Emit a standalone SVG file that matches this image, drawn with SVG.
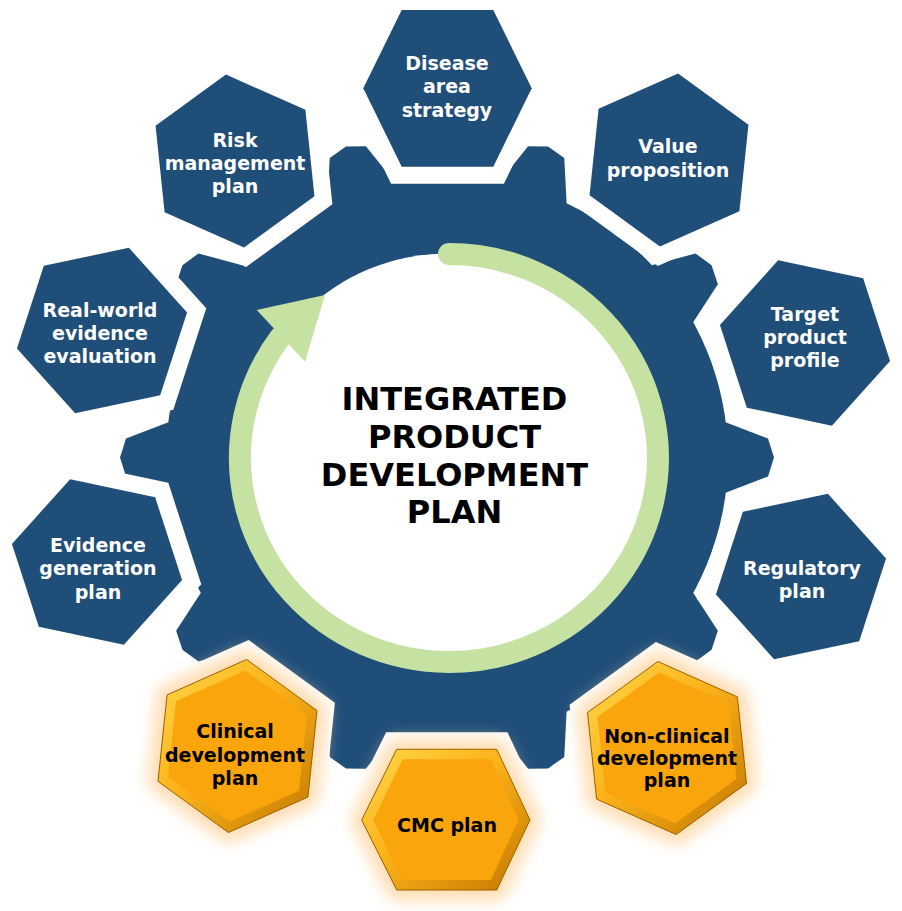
<svg xmlns="http://www.w3.org/2000/svg" width="902" height="911" viewBox="0 0 902 911">
<defs>
<style>
.gear{fill:#1F4E79}
.gap{fill:#fff;stroke:#fff;stroke-width:34;stroke-linejoin:miter}
.hex{fill:#1F4E79}
.lbl{font-family:"DejaVu Sans",Verdana,sans-serif;font-weight:bold;font-size:19px;fill:#fff;text-anchor:middle}
.olbl{font-family:"DejaVu Sans",Verdana,sans-serif;font-weight:bold;font-size:19px;fill:#000;text-anchor:middle}
.ttl{font-family:"DejaVu Sans",Verdana,sans-serif;font-weight:bold;font-size:32px;fill:#000;text-anchor:middle}
.glow{fill:#FFD6A2;stroke:#FFD6A2;stroke-width:20;stroke-linejoin:round;opacity:.85;filter:url(#blur)}
.bev{fill:url(#bev);stroke:#9A6000;stroke-width:1}
.face{fill:#FBA50C}
.ring{fill:none;stroke:#C6E2A2;stroke-width:22;stroke-linecap:round}
.head{fill:#C6E2A2}
</style>
<polygon id="hx" points="87,0 43.5,75.3 -43.5,75.3 -87,0 -43.5,-75.3 43.5,-75.3"/>
<polygon id="tooth" points="-50,-240 -19,-321 0,-327 19,-321 50,-240"/>
<linearGradient id="bev" x1="0" y1="0" x2="1" y2="1">
<stop offset="0" stop-color="#FFD84A"/>
<stop offset="0.45" stop-color="#FBB21A"/>
<stop offset="1" stop-color="#C27600"/>
</linearGradient>
<filter id="blur" x="-40%" y="-40%" width="180%" height="180%"><feGaussianBlur stdDeviation="8"/></filter>
</defs>
<rect width="902" height="911" fill="#fff"/>
<g id="gear">
<circle class="gear" cx="447" cy="457.5" r="281"/>
<use href="#tooth" class="gear" transform="translate(447,457.5) rotate(18)"/>
<use href="#tooth" class="gear" transform="translate(447,457.5) rotate(54)"/>
<use href="#tooth" class="gear" transform="translate(447,457.5) rotate(90)"/>
<use href="#tooth" class="gear" transform="translate(447,457.5) rotate(126)"/>
<use href="#tooth" class="gear" transform="translate(447,457.5) rotate(162)"/>
<use href="#tooth" class="gear" transform="translate(447,457.5) rotate(198)"/>
<use href="#tooth" class="gear" transform="translate(447,457.5) rotate(234)"/>
<use href="#tooth" class="gear" transform="translate(447,457.5) rotate(270)"/>
<use href="#tooth" class="gear" transform="translate(447,457.5) rotate(306)"/>
<use href="#tooth" class="gear" transform="translate(447,457.5) rotate(342)"/>
</g>
<g id="gaps">
<polygon class="gap" points="401.7,10 493.3,10 531.7,88.3 493.3,166.7 401.7,166.7 363.3,88.3"/>
<use href="#hx" class="gap" transform="translate(669,160) rotate(36)"/>
<use href="#hx" class="gap" transform="translate(805,343) rotate(72)"/>
<use href="#hx" class="gap" transform="translate(801,576.5) rotate(108)"/>
<use href="#hx" class="gap" transform="translate(667,748) rotate(144)"/>
<polygon class="gap" points="396.7,749.3 496.7,749.3 530,820 496.7,890 396.7,890 361.7,820"/>
<use href="#hx" class="gap" transform="translate(237.5,746) rotate(216)"/>
<use href="#hx" class="gap" transform="translate(97,562) rotate(252)"/>
<use href="#hx" class="gap" transform="translate(102,330.5) rotate(288)"/>
<use href="#hx" class="gap" transform="translate(235,161) rotate(324)"/>
</g>
<g id="hub">
<circle cx="447" cy="457.5" r="204" fill="#fff"/>
<path class="ring" d="M449 254 A209 204 0 1 1 280.5 337.2"/>
<polygon class="head" points="256.7,310 325,295 305,361.7"/>
<text class="ttl" x="454.5" y="409.5">INTEGRATED</text>
<text class="ttl" x="454.5" y="448">PRODUCT</text>
<text class="ttl" x="454.5" y="485.7">DEVELOPMENT</text>
<text class="ttl" x="454.5" y="523.3">PLAN</text>
</g>
<g id="glows">
<polygon class="glow" points="737.4,696.9 746.5,783.4 676.1,834.5 596.6,799.1 587.5,712.6 657.9,661.5"/>
<polygon class="glow" points="396.7,749.3 496.7,749.3 530,820 496.7,890 396.7,890 361.7,820"/>
<polygon class="glow" points="317,710.6 307.9,797.1 228.4,832.5 158,781.4 167.1,694.9 246.6,659.5"/>
</g>
<g id="disease">
<polygon class="hex" points="401.7,10 493.3,10 531.7,88.3 493.3,166.7 401.7,166.7 363.3,88.3"/>
<text class="lbl" x="447" y="70">Disease</text>
<text class="lbl" x="447" y="93.3">area</text>
<text class="lbl" x="447" y="116.7">strategy</text>
</g>
<g id="value">
<use href="#hx" class="hex" transform="translate(669,160) rotate(36)"/>
<text class="lbl" x="668" y="153">Value</text>
<text class="lbl" x="668" y="176.5">proposition</text>
</g>
<g id="target">
<use href="#hx" class="hex" transform="translate(805,343) rotate(72)"/>
<text class="lbl" x="805" y="321">Target</text>
<text class="lbl" x="805" y="344">product</text>
<text class="lbl" x="805" y="367">profile</text>
</g>
<g id="regulatory">
<use href="#hx" class="hex" transform="translate(801,576.5) rotate(108)"/>
<text class="lbl" x="802" y="575">Regulatory</text>
<text class="lbl" x="802" y="598">plan</text>
</g>
<g id="nonclinical">
<polygon class="bev" points="737.4,696.9 746.5,783.4 676.1,834.5 596.6,799.1 587.5,712.6 657.9,661.5"/>
<polygon class="face" points="728.5,703.3 736.4,778.9 674.9,823.6 605.5,792.7 597.6,717.1 659.1,672.4"/>
<text class="olbl" x="667" y="743.3">Non-clinical</text>
<text class="olbl" x="667" y="765">development</text>
<text class="olbl" x="667" y="786.7">plan</text>
</g>
<g id="cmc">
<polygon class="bev" points="396.7,749.3 496.7,749.3 530,820 496.7,890 396.7,890 361.7,820"/>
<polygon class="face" points="402.5,759.3 490.9,759.3 518.5,820 490.9,880 402.5,880 373.2,820"/>
<text class="olbl" x="447" y="831.7">CMC plan</text>
</g>
<g id="clinical">
<polygon class="bev" points="317,710.6 307.9,797.1 228.4,832.5 158,781.4 167.1,694.9 246.6,659.5"/>
<polygon class="face" points="306.9,715.1 299,790.7 229.6,821.6 168.1,776.9 176,701.3 245.4,670.4"/>
<text class="olbl" x="235" y="738.3">Clinical</text>
<text class="olbl" x="235" y="761.7">development</text>
<text class="olbl" x="235" y="785">plan</text>
</g>
<g id="evidence">
<use href="#hx" class="hex" transform="translate(97,562) rotate(252)"/>
<text class="lbl" x="98" y="552">Evidence</text>
<text class="lbl" x="98" y="575">generation</text>
<text class="lbl" x="98" y="598.5">plan</text>
</g>
<g id="realworld">
<use href="#hx" class="hex" transform="translate(102,330.5) rotate(288)"/>
<text class="lbl" x="100" y="317">Real-world</text>
<text class="lbl" x="100" y="339.5">evidence</text>
<text class="lbl" x="100" y="362.5">evaluation</text>
</g>
<g id="risk">
<use href="#hx" class="hex" transform="translate(235,161) rotate(324)"/>
<text class="lbl" x="235" y="146.7">Risk</text>
<text class="lbl" x="235" y="169.5">management</text>
<text class="lbl" x="235" y="192.7">plan</text>
</g>
</svg>
